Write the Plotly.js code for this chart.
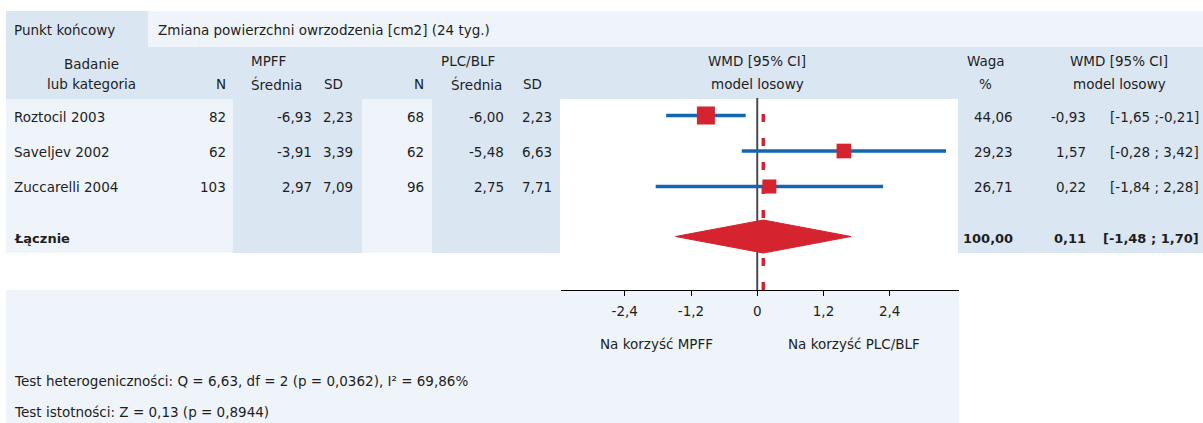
<!DOCTYPE html>
<html>
<head>
<meta charset="utf-8">
<script src="https://cdn.plot.ly/plotly-3.0.1.min.js"></script>
<style>html,body{margin:0;padding:0;background:#fff;}#chart{width:1203px;height:423px;}</style>
</head>
<body>
<div id="chart"></div>
<script>
// ---- data ----
const studies   = ['Roztocil 2003', 'Saveljev 2002', 'Zuccarelli 2004'];
const nMPFF     = [82, 62, 103];
const meanMPFF  = [-6.93, -3.91, 2.97];
const sdMPFF    = [2.23, 3.39, 7.09];
const nPLC      = [68, 62, 96];
const meanPLC   = [-6.00, -5.48, 2.75];
const sdPLC     = [2.23, 6.63, 7.71];
const weights   = [44.06, 29.23, 26.71];
const wmd       = [-0.93, 1.57, 0.22];
const ciLow     = [-1.65, -0.28, -1.84];
const ciHigh    = [-0.21, 3.42, 2.28];
const totalLabel  = 'Łącznie';
const totalWeight = 100.00;
const totalWMD    = 0.11;
const totalLow    = -1.48;
const totalHigh   = 1.70;
const tickVals   = [-2.4, -1.2, 0, 1.2, 2.4];
const tickLabels = ['-2,4', '-1,2', '0', '1,2', '2,4'];
const endpointLabel = 'Punkt końcowy';
const endpointText  = 'Zmiana powierzchni owrzodzenia [cm2] (24 tyg.)';
const hetText = 'Test heterogeniczności: Q = 6,63, df = 2 (p = 0,0362), I² = 69,86%';
const sigText = 'Test istotności: Z = 0,13 (p = 0,8944)';
const favLeft  = 'Na korzyść MPFF';
const favRight = 'Na korzyść PLC/BLF';

// ---- layout helpers ----
const W = 1203, H = 423;
const X = px => px / W;
const Y = py => 1 - py / H;
const FONT = 'DejaVu Sans';
const FS = 13.5;
const TXT = '#1e1e1e';
const DARK = '#dbe6f3';
const LIGHT = '#eef4fa';
const RED = '#d52330';
const BLUE = '#1466b0';

const fmt = (v, d) => v.toFixed(d).replace('.', ',');
const ciStr = (lo, hi) => '[' + fmt(lo, 2) + ' ;' + (hi >= 0 ? ' ' : '') + fmt(hi, 2) + ']';

const annotations = [];
function ann(text, px, py, anchor, bold) {
  annotations.push({
    text: bold ? '<b>' + text + '</b>' : text,
    xref: 'paper', yref: 'paper', x: X(px), y: Y(py),
    xanchor: anchor, yanchor: 'middle', showarrow: false, borderpad: 0,
    font: {family: FONT, size: bold ? 13 : FS, color: TXT}
  });
}

const shapes = [];
function rect(x0, y0, x1, y1, color) {
  shapes.push({type: 'rect', xref: 'paper', yref: 'paper', layer: 'below',
    x0: X(x0), x1: X(x1), y0: Y(y1), y1: Y(y0),
    fillcolor: color, line: {width: 0}});
}

// backgrounds
rect(6, 11, 148, 47, DARK);
rect(148, 11, 1203, 47, LIGHT);
rect(6, 47, 1203, 99, DARK);
rect(6, 99, 233, 253, LIGHT);
rect(233, 99, 362, 253, DARK);
rect(362, 99, 432, 253, LIGHT);
rect(432, 99, 560, 253, DARK);
rect(958, 99, 1203, 253, DARK);
rect(6, 290, 959, 423, LIGHT);

// plot geometry
const plotTop = 98, plotBottom = 290;
const rowPx = 35.5, firstRowPx = 115.5, totalRowPx = 236.5;
const yTop = -(firstRowPx - plotTop) / rowPx;
const yBottom = yTop + (plotBottom - plotTop) / rowPx;
const totalY = (totalRowPx - firstRowPx) / rowPx;
const diamondHalf = 16.5 / rowPx;

// zero line & pooled dashed line
shapes.push({type: 'line', xref: 'x', yref: 'paper', layer: 'below',
  x0: 0, x1: 0, y0: Y(plotBottom), y1: Y(plotTop),
  line: {color: '#4a4a4a', width: 2}});
shapes.push({type: 'line', xref: 'x', yref: 'paper', layer: 'below',
  x0: totalWMD, x1: totalWMD, y0: Y(plotBottom), y1: Y(plotTop),
  line: {color: RED, width: 3.5, dash: '8px,16px'}});

// header texts
ann(endpointLabel, 13, 30, 'left');
ann(endpointText, 157, 30, 'left');
ann('Badanie', 91, 64, 'center');
ann('lub kategoria', 91, 84, 'center');
ann('N', 227, 84, 'right');
ann('MPFF', 250, 61, 'left');
ann('Średnia', 250, 84, 'left');
ann('SD', 323, 84, 'left');
ann('N', 425, 84, 'right');
ann('PLC/BLF', 440, 61, 'left');
ann('Średnia', 450, 84, 'left');
ann('SD', 522, 84, 'left');
ann('WMD [95% CI]', 757, 61, 'center');
ann('model losowy', 757, 84, 'center');
ann('Waga', 986, 61, 'center');
ann('%', 986, 84, 'center');
ann('WMD [95% CI]', 1119, 61, 'center');
ann('model losowy', 1119, 84, 'center');

// rows
studies.forEach((s, i) => {
  const py = firstRowPx + i * rowPx + 1;
  ann(s, 13, py, 'left');
  ann(String(nMPFF[i]), 227, py, 'right');
  ann(fmt(meanMPFF[i], 2), 313, py, 'right');
  ann(fmt(sdMPFF[i], 2), 354, py, 'right');
  ann(String(nPLC[i]), 425, py, 'right');
  ann(fmt(meanPLC[i], 2), 505, py, 'right');
  ann(fmt(sdPLC[i], 2), 553, py, 'right');
  ann(fmt(weights[i], 2), 1014, py, 'right');
  ann(fmt(wmd[i], 2), 1087, py, 'right');
  ann(ciStr(ciLow[i], ciHigh[i]), 1200, py, 'right');
});
const tpy = totalRowPx + 1.5;
ann(totalLabel, 13, tpy, 'left', true);
ann(fmt(totalWeight, 2), 1014, tpy, 'right', true);
ann(fmt(totalWMD, 2), 1087, tpy, 'right', true);
ann(ciStr(totalLow, totalHigh), 1200, tpy, 'right', true);

// bottom texts
ann(favLeft, 656, 344, 'center');
ann(favRight, 854, 344, 'center');
ann(hetText, 13, 381, 'left');
ann(sigText, 13, 412, 'left');

// ---- traces ----
const ciX = [], ciY = [];
studies.forEach((s, i) => { ciX.push(ciLow[i], ciHigh[i], null); ciY.push(i, i, null); });
const maxW = Math.max(...weights);
const traces = [
  {type: 'scatter', mode: 'lines', x: ciX, y: ciY,
   line: {color: BLUE, width: 3.5}, hoverinfo: 'skip', showlegend: false},
  {type: 'scatter', mode: 'markers', x: wmd, y: studies.map((s, i) => i),
   marker: {symbol: 'square', color: RED, opacity: 1, size: weights.map(w => 18 * Math.sqrt(w / maxW)), line: {width: 0}},
   hoverinfo: 'skip', showlegend: false},
  {type: 'scatter', mode: 'lines', fill: 'toself', fillcolor: RED,
   x: [totalLow, totalWMD, totalHigh, totalWMD, totalLow],
   y: [totalY, totalY - diamondHalf, totalY, totalY + diamondHalf, totalY],
   line: {color: RED, width: 1}, hoverinfo: 'skip', showlegend: false}
];

const layout = {
  width: W, height: H,
  margin: {l: 0, r: 0, t: 0, b: 0},
  paper_bgcolor: '#ffffff', plot_bgcolor: 'rgba(0,0,0,0)',
  showlegend: false,
  font: {family: FONT, size: FS, color: TXT},
  xaxis: {domain: [X(561), X(959)], range: [-3.555, 3.655], autorange: false,
    showgrid: false, zeroline: false, showline: true, linecolor: '#000', linewidth: 1,
    ticks: 'outside', ticklen: 5, tickwidth: 1, tickcolor: '#000',
    tickvals: tickVals, ticktext: tickLabels, ticklabelstandoff: 4,
    tickfont: {family: FONT, size: FS, color: TXT}, fixedrange: true},
  yaxis: {domain: [Y(plotBottom), Y(plotTop)], range: [yBottom, yTop], autorange: false,
    visible: false, fixedrange: true},
  shapes: shapes,
  annotations: annotations
};

Plotly.newPlot('chart', traces, layout, {staticPlot: true, displayModeBar: false});
</script>
</body>
</html>
